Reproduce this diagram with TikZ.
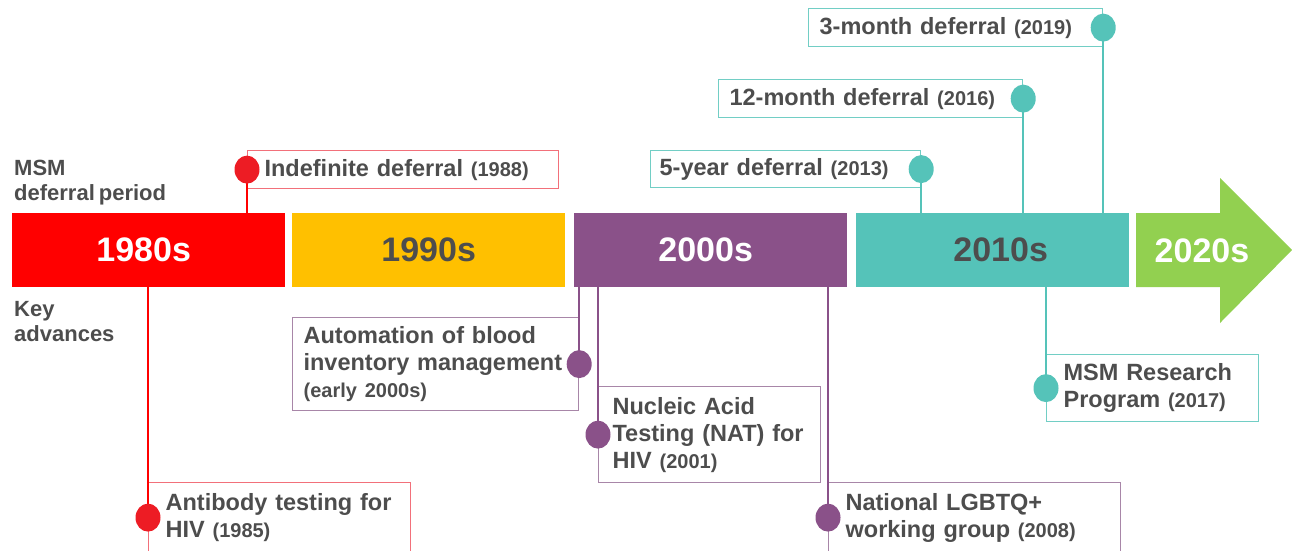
\documentclass[tikz,border=0pt]{standalone}
\usepackage{fontspec}
\setmainfont{Liberation Sans}[WordSpace=0.65]
\usepackage{tikz}
\usetikzlibrary{positioning, shapes.geometric}

\definecolor{txtgray}{HTML}{4D4D4D}
\definecolor{cred}{HTML}{FF0000}
\definecolor{dotred}{HTML}{ED1C24}
\definecolor{boxred}{HTML}{F2707A}
\definecolor{cyellow}{HTML}{FFC000}
\definecolor{cpurple}{HTML}{8A5189}
\definecolor{boxpurple}{HTML}{A886A8}
\definecolor{cteal}{HTML}{55C3B9}
\definecolor{boxteal}{HTML}{72CEC5}
\definecolor{cgreen}{HTML}{92D050}

\newcommand{\yeartxt}[1]{{\fontsize{20}{27}\selectfont #1}}

\begin{document}
\begin{tikzpicture}[x=1pt, y=-1pt,
	decade/.style={rectangle, anchor=north west, inner sep=0pt,
		minimum width=273pt, minimum height=74pt,
		font=\fontsize{34}{40}\selectfont\bfseries},
	event/.style={rectangle, draw=#1, line width=1.2pt, anchor=north west,
		align=left, inner xsep=11pt, inner ysep=0pt, text=txtgray,
		font=\fontsize{23.5}{27}\selectfont\bfseries},
	dot/.style={ellipse, fill=#1, minimum width=25pt, minimum height=28pt, inner sep=0pt},
	link/.style={draw=#1, line width=2pt},
	side/.style={anchor=north west, align=left, inner sep=0pt, text=txtgray,
		font=\fontsize{22}{25}\selectfont\bfseries}
	]
	\useasboundingbox (0,0) rectangle (1292,550);

	% decades
	\node[decade, fill=cred, text=white] (bar80) at (12,213) {\hspace*{-10pt}1980s};
	\node[decade, fill=cyellow, text=txtgray] (bar90) at (292,213) {1990s};
	\node[decade, fill=cpurple, text=white] (bar00) at (574,213) {\hspace*{-10pt}2000s};
	\node[decade, fill=cteal, text=txtgray] (bar10) at (856,213) {2010s\hspace*{-16pt}};
	\fill[cgreen] (1136,213) -- (1220,213) -- (1220,178) -- (1292,250)
		-- (1220,323) -- (1220,287) -- (1136,287) -- cycle;
	\node[text=white, font=\fontsize{34}{40}\selectfont\bfseries] (bar20) at (1202,251) {2020s};

	\node[side] (lDefer) at (14,160) {MSM\\deferral period};
	\node[side] (lKey) at (14,301) {Key\\advances};

	% deferral period (above)
	\node[event=boxred, inner xsep=17pt, text width=277pt, minimum height=38pt] (bIndef)
		at (247,150) {Indefinite deferral \yeartxt{(1988)}};
	\node[event=boxteal, inner xsep=9pt, text width=252pt, minimum height=37pt] (b5yr)
		at (650,150) {5-year deferral \yeartxt{(2013)}};
	\node[event=boxteal, text width=282pt, minimum height=38pt] (b12mo)
		at (718,79) {12-month deferral \yeartxt{(2016)}};
	\node[event=boxteal, text width=272pt, minimum height=38pt] (b3mo)
		at (808,8) {3-month deferral \yeartxt{(2019)}};

	% key advances (below)
	\node[event=boxred, inner xsep=17pt, text width=228pt, minimum height=70pt] (bAnti)
		at (148,482) {Antibody testing for\\HIV \yeartxt{(1985)}};
	\node[event=boxpurple, text width=264pt, minimum height=93pt] (bAuto)
		at (292,317) {Automation of blood\\inventory management\\\yeartxt{(early 2000s)}};
	\node[event=boxpurple, inner xsep=14pt, text width=194pt, minimum height=96pt] (bNAT)
		at (598,386) {Nucleic Acid\\Testing (NAT) for\\HIV \yeartxt{(2001)}};
	\node[event=boxpurple, inner xsep=17pt, text width=258pt, minimum height=70pt] (bNat)
		at (828,482) {National LGBTQ+\\working group \yeartxt{(2008)}};
	\node[event=boxteal, inner xsep=17pt, text width=178pt, minimum height=67pt] (bMSM)
		at (1046,354) {MSM Research\\Program \yeartxt{(2017)}};

	% connectors
	\draw[link=cred] (bIndef.west) -- (bIndef.west |- bar80.north);
	\draw[link=cteal] (b5yr.east) -- (b5yr.east |- bar10.north);
	\draw[link=cteal] (b12mo.east) -- (b12mo.east |- bar10.north);
	\draw[link=cteal] (b3mo.east) -- (b3mo.east |- bar10.north);
	\draw[link=cred] (bAnti.west) -- (bAnti.west |- bar80.south);
	\draw[link=cpurple] (bAuto.east) -- (bAuto.east |- bar00.south);
	\draw[link=cpurple] (bNAT.west) -- (bNAT.west |- bar00.south);
	\draw[link=cpurple] (bNat.west) -- (bNat.west |- bar00.south);
	\draw[link=cteal] (bMSM.west) -- (bMSM.west |- bar10.south);

	% dots
	\node[dot=dotred] (dIndef) at (bIndef.west) {};
	\node[dot=cteal] (d5yr) at (b5yr.east) {};
	\node[dot=cteal] (d12mo) at (b12mo.east) {};
	\node[dot=cteal] (d3mo) at (b3mo.east) {};
	\node[dot=dotred] (dAnti) at (bAnti.west) {};
	\node[dot=cpurple] (dAuto) at (bAuto.east) {};
	\node[dot=cpurple] (dNAT) at (bNAT.west) {};
	\node[dot=cpurple] (dNat) at (bNat.west) {};
	\node[dot=cteal] (dMSM) at (bMSM.west) {};
\end{tikzpicture}
\end{document}
